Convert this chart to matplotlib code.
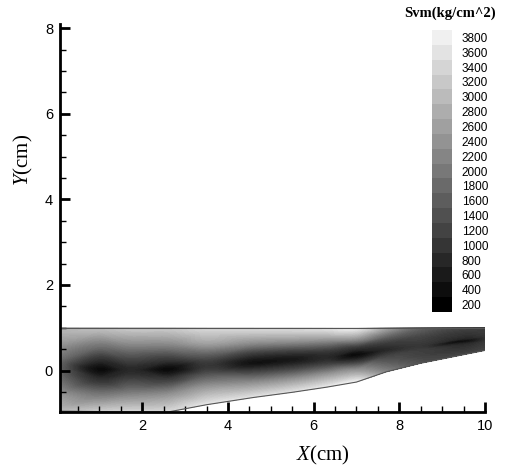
import numpy as np
import matplotlib
matplotlib.use("Agg")
import matplotlib.pyplot as plt
import matplotlib.tri as mtri
from matplotlib.colors import LinearSegmentedColormap, ListedColormap, BoundaryNorm
from matplotlib.cm import ScalarMappable
from matplotlib.ticker import MultipleLocator

# ---- data ----
col_x = [0.08, 1.0, 1.7, 2.6, 3.5, 4.6, 5.5, 6.3, 7.0, 7.7, 8.5, 9.5, 10.0]
bottom_y = [-0.95, -0.96, -0.97, -0.97, -0.80, -0.63, -0.51, -0.39, -0.27, -0.03, 0.17, 0.37, 0.47]
top_y = 1.0
eta_rows = [0.0, 0.2, 0.38, 0.5, 0.62, 0.8, 1.0]
svm = [
    [3000, 2400, 1800, 1600, 1800, 2400, 3000],
    [3250, 2000, 900, 350, 900, 2000, 3100],
    [3400, 2200, 1200, 800, 1200, 2200, 3250],
    [3460, 2400, 1100, 350, 1000, 2200, 3260],
    [3640, 2600, 1500, 1000, 1400, 2600, 3500],
    [3600, 2400, 1100, 450, 1000, 2400, 3550],
    [3600, 2400, 1100, 550, 1000, 2400, 3600],
    [3700, 2500, 1200, 800, 1100, 2400, 3700],
    [3800, 2500, 1000, 350, 900, 2400, 3800],
    [2200, 1600, 1100, 800, 1000, 1700, 2700],
    [1400, 1200, 1100, 1000, 1100, 1300, 1700],
    [1200, 1000, 800, 400, 800, 1000, 1200],
    [1200, 1100, 1000, 900, 950, 1050, 1100],
]
cbar_levels = list(range(200, 4000, 200))

# ---- build mesh ----
X, E = np.meshgrid(np.array(col_x), np.array(eta_rows), indexing="ij")
B = np.array(bottom_y)[:, None]
Y = B + E * (top_y - B)
Z = np.array(svm, dtype=float)
base = mtri.Triangulation(X.ravel(), E.ravel())
tri = mtri.Triangulation(X.ravel(), Y.ravel(), triangles=base.triangles)
refiner = mtri.UniformTriRefiner(tri)
interp = mtri.CubicTriInterpolator(tri, Z.ravel(), kind="geom")
tri_f, z_f = refiner.refine_field(Z.ravel(), triinterpolator=interp, subdiv=3)

cmap = LinearSegmentedColormap.from_list("g", [(0, 0, 0), (0.94, 0.94, 0.94)])
vmin, vmax = 200, 3800

plt.rcParams["mathtext.fontset"] = "custom"
plt.rcParams["mathtext.it"] = "Liberation Serif:italic"
plt.rcParams["mathtext.rm"] = "Liberation Serif"

fig = plt.figure(figsize=(5.07, 4.70), dpi=100)
ax = fig.add_axes([60/507, 1-412/470, 425/507, 388/470])
ax.tricontourf(tri_f, np.clip(z_f, 100, 3900), levels=np.arange(100, 3951, 50),
               cmap=cmap, vmin=vmin, vmax=vmax)
# boundary lines
bx = np.array(col_x)
ax.plot(bx, np.array(bottom_y), color="#555555", lw=0.8)
ax.plot([bx[0], bx[-1]], [top_y, top_y], color="#555555", lw=0.8)

ax.set_xlim(0.08, 10.0)
ax.set_ylim(-0.97, 8.1)
for s in ["top", "right"]:
    ax.spines[s].set_visible(False)
for s in ["left", "bottom"]:
    ax.spines[s].set_linewidth(2)
ax.xaxis.set_major_locator(MultipleLocator(2))
ax.xaxis.set_minor_locator(MultipleLocator(0.5))
ax.yaxis.set_major_locator(MultipleLocator(2))
ax.yaxis.set_minor_locator(MultipleLocator(0.5))
ax.tick_params(which="major", direction="in", length=7, width=2,
               labelsize=10.5, pad=5)
ax.tick_params(which="minor", direction="in", length=4, width=1)
for lab in ax.get_xticklabels() + ax.get_yticklabels():
    lab.set_family("Liberation Sans")

fig.text(323/507, 1-455/470, "$X$(cm)", family="Liberation Serif",
         fontsize=15, ha="center", va="center")
fig.text(23/507, 1-160/470, "$Y$(cm)", family="Liberation Serif",
         fontsize=15, ha="center", va="center", rotation=90)

# legend
cax = fig.add_axes([432/507, 1-312/470, 20/507, 282/470])
colors = [cmap((v - vmin) / (vmax - vmin)) for v in cbar_levels]
bounds = [v - 100 for v in cbar_levels] + [cbar_levels[-1] + 100]
sm = ScalarMappable(norm=BoundaryNorm(bounds, len(colors)), cmap=ListedColormap(colors))
cb = fig.colorbar(sm, cax=cax, ticks=cbar_levels)
cb.outline.set_visible(False)
cax.minorticks_off()
cax.tick_params(which="both", length=0, labelsize=8.5, pad=7)
for lab in cax.get_yticklabels():
    lab.set_family("Liberation Sans")
fig.text(450/507, 1-13/470, "Svm(kg/cm^2)", family="Liberation Serif",
         fontsize=10.5, fontweight="bold", ha="center", va="center")

fig.savefig("out.png", dpi=100)
